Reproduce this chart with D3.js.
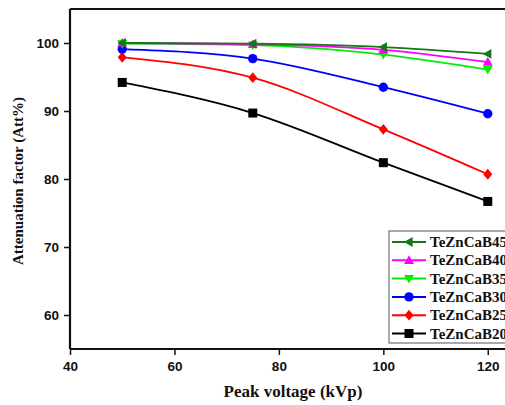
<!DOCTYPE html>
<html>
<head>
<meta charset="utf-8">
<script src="https://cdn.jsdelivr.net/npm/d3@7"></script>
<style>
  html, body { margin: 0; padding: 0; background: #fff; overflow: hidden; }
  svg { display: block; }
</style>
</head>
<body>
<div id="chart"></div>
<script>
// data
const voltages = [50, 75, 100, 120];
const seriesNames = ['TeZnCaB45', 'TeZnCaB40', 'TeZnCaB35', 'TeZnCaB30', 'TeZnCaB25', 'TeZnCaB20'];
const b45 = [100.0, 99.9, 99.4, 98.4];
const b40 = [100.0, 99.8, 99.0, 97.2];
const b35 = [99.9, 99.7, 98.3, 96.1];
const b30 = [99.1, 97.7, 93.5, 89.6];
const b25 = [97.9, 94.9, 87.3, 80.7];
const b20 = [94.2, 89.7, 82.4, 76.7];
const xTicks = [40, 60, 80, 100, 120];
const yTicks = [60, 70, 80, 90, 100];

const colors = ['#137a13', '#ff00ff', '#00ee00', '#0000ff', '#ff0000', '#000000'];
const symbols = ['triLeft', 'triUp', 'triDown', 'circle', 'diamond', 'square'];
const values = [b45, b40, b35, b30, b25, b20];

const W = 505, H = 405;
const m = { left: 70, top: 9, right: 540, bottom: 349 };

const svg = d3.select('#chart').append('svg').attr('width', W).attr('height', H);

const x = d3.scaleLinear().domain([40, 130]).range([m.left, m.right]);
const y = d3.scaleLinear().domain([55, 105]).range([m.bottom, m.top]);

// frame
svg.append('line').attr('x1', m.left).attr('x2', W).attr('y1', m.top).attr('y2', m.top)
  .attr('stroke', '#111').attr('stroke-width', 2);

const xAxis = svg.append('g').attr('transform', `translate(0,${m.bottom})`)
  .call(d3.axisBottom(x).tickValues(xTicks).tickSize(6).tickPadding(6));
const yAxis = svg.append('g').attr('transform', `translate(${m.left},0)`)
  .call(d3.axisLeft(y).tickValues(yTicks).tickSize(6).tickPadding(5));

[xAxis, yAxis].forEach(g => {
  g.select('.domain').attr('stroke', '#111').attr('stroke-width', 2.2);
  g.selectAll('.tick line').attr('stroke', '#111').attr('stroke-width', 1.5);
  g.selectAll('.tick text').attr('fill', '#111')
    .style('font-family', '"Liberation Sans", Arial, sans-serif')
    .style('font-weight', 'bold').style('font-size', '13.5px');
});
xAxis.select('.domain').attr('d', `M${m.left},0H${W}`);
yAxis.select('.domain').attr('d', `M0,${m.top}V${m.bottom}`);

// symbol path generator
function symbolPath(type, s) {
  const h = s / 2;
  switch (type) {
    case 'square': return `M${-h},${-h}h${s}v${s}h${-s}Z`;
    case 'diamond': return `M0,${-h * 1.2}L${h},0L0,${h * 1.2}L${-h},0Z`;
    case 'triUp': return `M0,${-h * 1.1}L${h * 1.1},${h * 0.8}L${-h * 1.1},${h * 0.8}Z`;
    case 'triDown': return `M0,${h * 1.1}L${h * 1.1},${-h * 0.8}L${-h * 1.1},${-h * 0.8}Z`;
    case 'triLeft': return `M${-h * 1.1},0L${h * 0.8},${-h * 1.1}L${h * 0.8},${h * 1.1}Z`;
    default: return d3.symbol().type(d3.symbolCircle).size(s * s * 0.85)();
  }
}

const line = d3.line().x(d => x(d[0])).y(d => y(d[1])).curve(d3.curveMonotoneX);

// draw from bottom series up so greens sit on top
for (let i = values.length - 1; i >= 0; i--) {
  const pts = voltages.map((v, j) => [v, values[i][j]]);
  svg.append('path').datum(pts).attr('d', line)
    .attr('fill', 'none').attr('stroke', colors[i]).attr('stroke-width', 1.8);
  svg.append('g').selectAll('path').data(pts).join('path')
    .attr('transform', d => `translate(${x(d[0])},${y(d[1])})`)
    .attr('d', symbolPath(symbols[i], 9))
    .attr('fill', colors[i]);
}

// legend
const lg = svg.append('g').attr('transform', 'translate(389,231)');
lg.append('rect').attr('x', 0).attr('y', 0).attr('width', 130).attr('height', 112)
  .attr('fill', '#fff').attr('stroke', '#555').attr('stroke-width', 1);
seriesNames.forEach((name, i) => {
  const gy = 11 + i * 18.3;
  lg.append('line').attr('x1', 3).attr('x2', 37).attr('y1', gy).attr('y2', gy)
    .attr('stroke', colors[i]).attr('stroke-width', 2);
  lg.append('path').attr('transform', `translate(20,${gy})`)
    .attr('d', symbolPath(symbols[i], 9)).attr('fill', colors[i]);
  lg.append('text').attr('x', 41).attr('y', gy + 5).text(name)
    .style('font-family', '"Liberation Serif", "Times New Roman", serif')
    .style('font-weight', 'bold').style('font-size', '15px').attr('fill', '#111');
});

// axis titles
svg.append('text').attr('x', 293).attr('y', 397).attr('text-anchor', 'middle')
  .text('Peak voltage (kVp)')
  .style('font-family', '"Liberation Serif", "Times New Roman", serif')
  .style('font-weight', 'bold').style('font-size', '17px').attr('fill', '#111');
svg.append('text').attr('transform', 'translate(23,181) rotate(-90)').attr('text-anchor', 'middle')
  .text('Attenuation factor (Att%)')
  .style('font-family', '"Liberation Serif", "Times New Roman", serif')
  .style('font-weight', 'bold').style('font-size', '15px').attr('fill', '#111');
</script>
</body>
</html>
